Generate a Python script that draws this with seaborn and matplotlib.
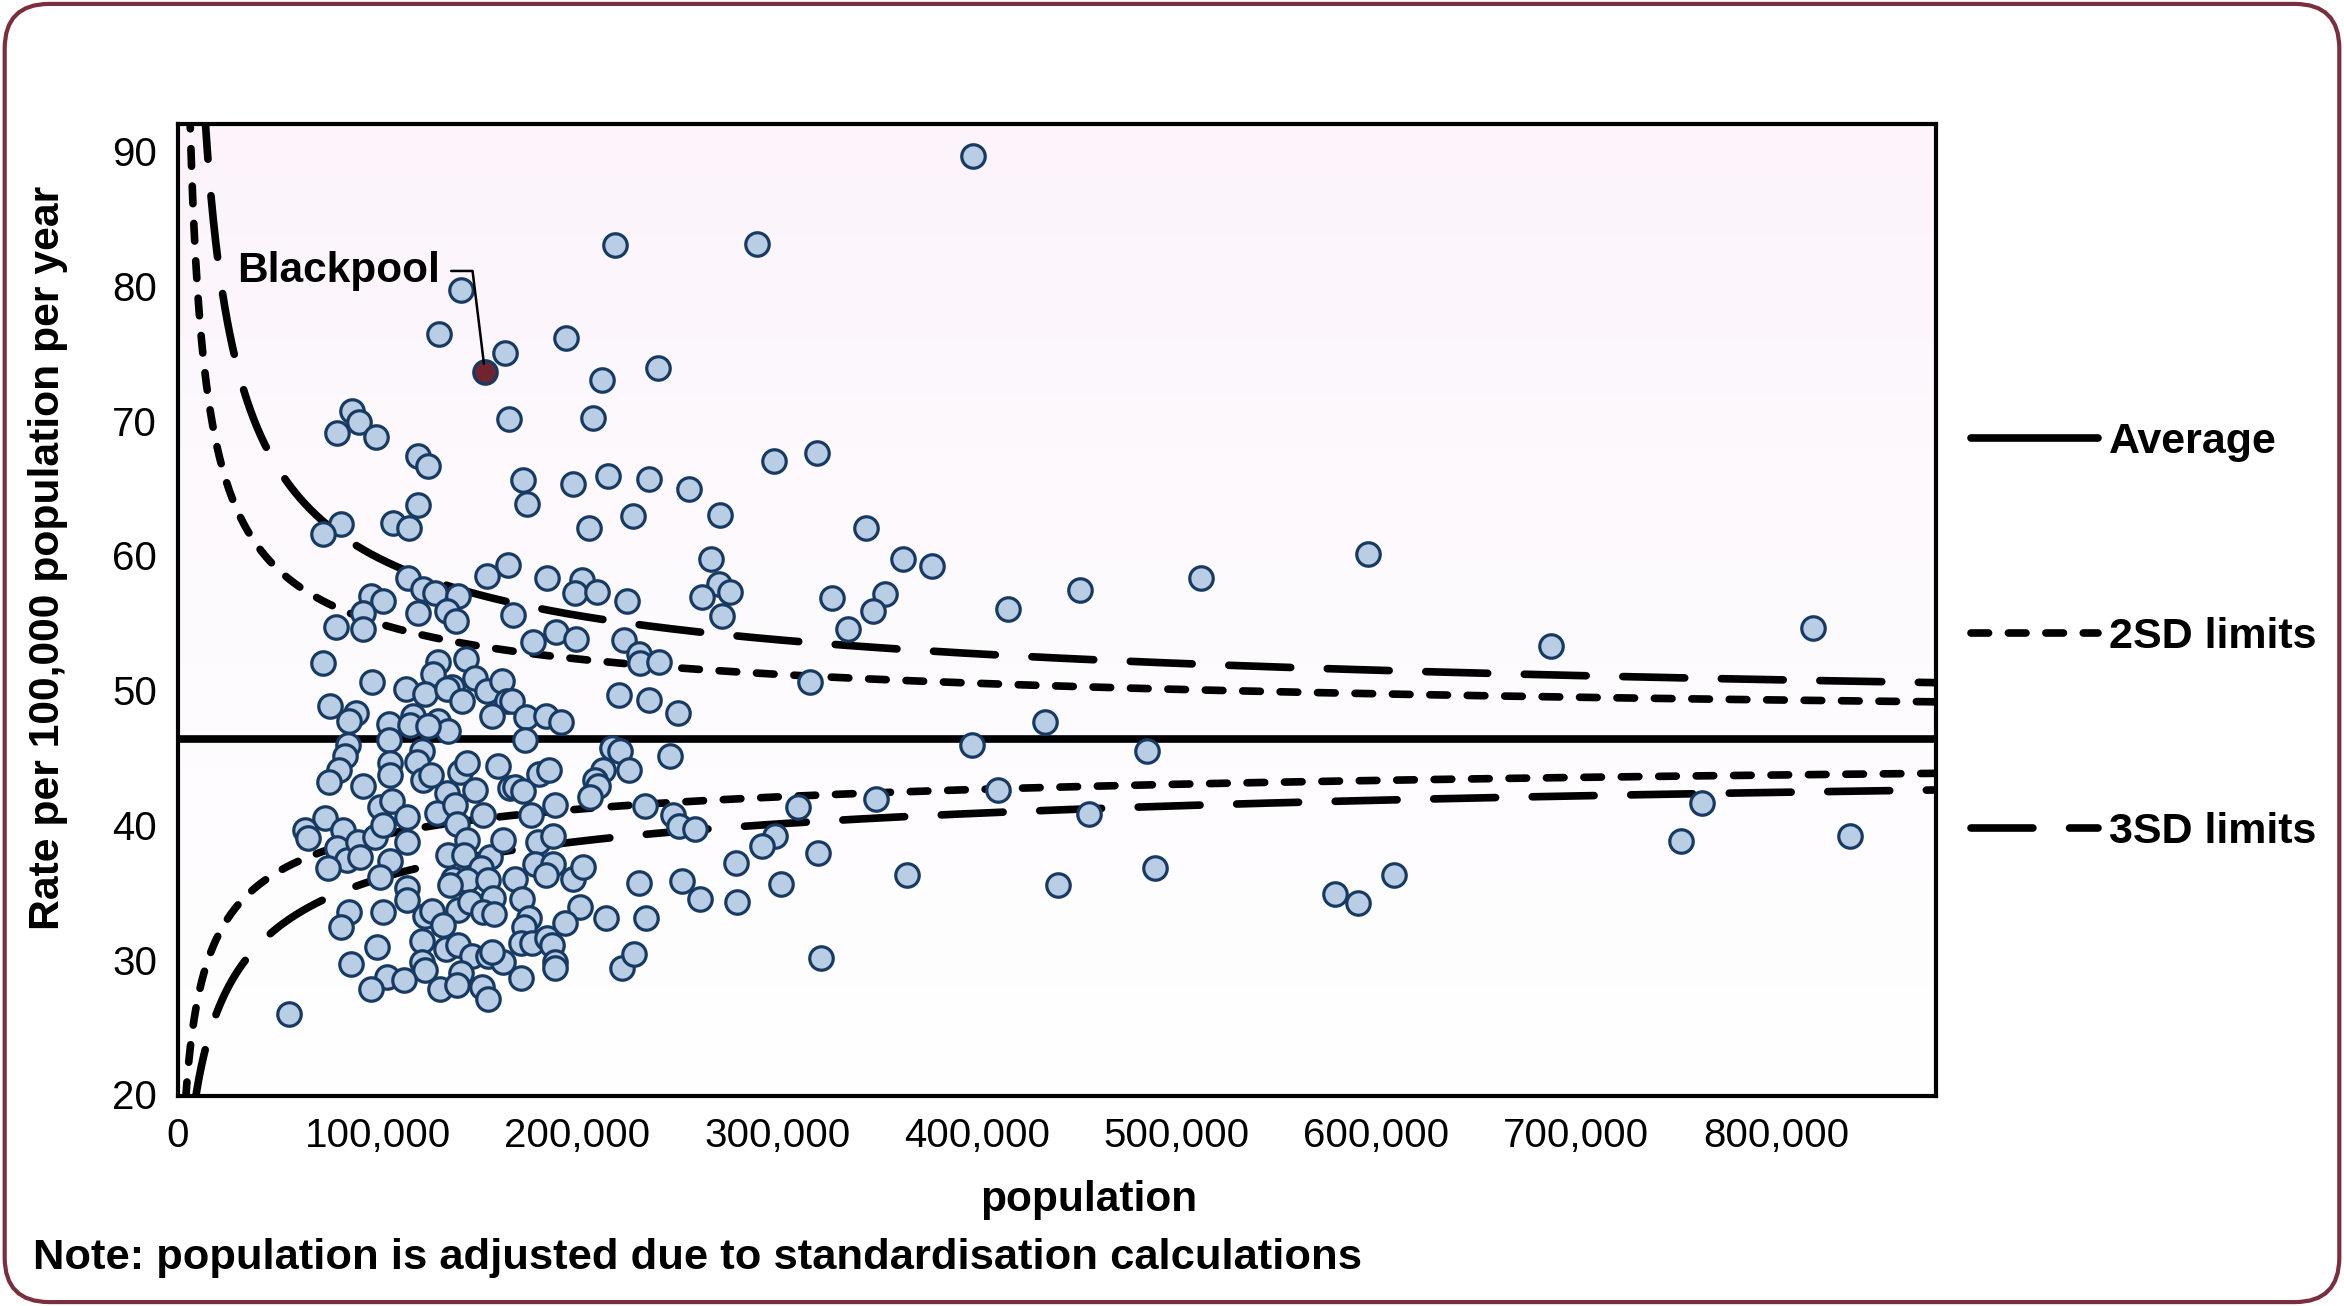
import numpy as np
import pandas as pd
import matplotlib
matplotlib.use("Agg")
import matplotlib.pyplot as plt
import seaborn as sns
from matplotlib.lines import Line2D
from matplotlib.patches import FancyBboxPatch
from matplotlib.colors import LinearSegmentedColormap
from matplotlib.ticker import FuncFormatter

# population (thousands) and rate per 100,000 per year
pop_k = [
    398, 218.6, 289.7, 141.5, 130.9, 194.4, 163.8, 240.5, 212.4, 165.6,
    207.9, 87.3, 90.8, 79.7, 99.3, 120.3, 125.3, 319.8, 298.6, 172.9,
    197.9, 215.4, 236.0, 255.8, 174.9, 120.1, 227.9, 271.4, 107.8, 115.8,
    81.8, 72.8, 205.8, 344.3, 363.2, 377.3, 266.9, 270.8, 276.5, 262.4,
    272.5, 327.6, 353.7, 347.9, 335.5, 415.7, 451.5, 512, 595.6, 687.3,
    818.6, 316.4,
    115.3, 154.5, 165.4, 184.7, 202.1, 96.9, 102.8, 92.8, 92.8, 79.1,
    122.5, 128.6, 140.3, 120, 134.5, 139, 198.7, 210, 224.9, 167.5,
    177.9, 189.1, 199.1, 223.4, 231, 231.4, 241, 72.8, 97.2, 130.4,
    144.2, 148.7, 127.8, 137, 114.1, 123.6, 134.5, 142, 154.5, 162.4,
    164.5, 157, 167, 174.2, 184.2, 191.8, 173.7, 220.9, 235.9, 250.5,
    76.1, 89.1, 85.6, 105.8, 117.5, 116.2, 130.4, 135.4, 125.3, 105.8,
    217.1, 221.3, 246.3, 433.8, 397.7, 484.9,
    85.3, 83.8, 80.8, 75.8, 92.8, 106.1, 106.1, 122, 119.8, 122.8,
    126.5, 141.2, 144.5, 160, 148.7, 134.5, 166.2, 101.1, 107, 129.5,
    138.7, 152.8, 73.6, 114.5, 180.9, 185.9, 168.7, 172.9, 212.9, 225.9,
    208.8, 210.4, 206.3, 233.8, 188.8, 176.7, 247.7, 250.8, 258.8, 410.5,
    349.6, 456.2, 310.6, 298.7, 292.5, 279.4, 320.6, 301.7, 279.8, 261.4,
    364.8, 440.4, 489.2, 322, 579.2, 590.9, 608.6, 763.1, 752.6, 837,
    63.6, 65.2, 82.7, 79.4, 84.8, 75.2, 90.3, 91.1, 98.6, 102.8,
    114.5, 106.1, 101.1, 114.8, 114.8, 139.5, 144.8, 135.3, 143.3, 156.2,
    151.5, 137.8, 144.5, 155.4, 136.1, 162.9, 157.9, 140.3, 146.2, 152.8,
    158.4, 123.7, 127, 132.8, 102.8, 85.8, 81.6, 99.8, 122, 134,
    140.3, 147, 155.4, 162.9, 86.6, 122, 123.7, 104.5, 113.3, 96.9,
    131.2, 141.5, 139.5, 152, 155.4, 55.8,
    180.4, 187.9, 178.7, 187.9, 184.2, 197.6, 202.9, 168.7, 172.4, 201.3,
    194, 214.2, 234.3, 230.8, 252.5, 175.9, 173.4, 171.7, 177.1, 184.6,
    187.1, 188.8, 188.8, 157, 171.7, 222.1, 228.3,
]
rate = [
    89.6, 83.0, 83.1, 79.7, 76.4, 76.1, 75.0, 73.9, 73.0, 70.1,
    70.2, 70.7, 69.9, 69.1, 68.8, 67.4, 66.6, 67.6, 67.0, 65.6,
    65.3, 65.9, 65.7, 64.9, 63.8, 63.7, 62.9, 63.0, 62.4, 62.0,
    62.3, 61.6, 62.0, 62.0, 59.7, 59.2, 59.7, 57.9, 57.3, 56.9,
    55.5, 56.8, 57.1, 55.9, 54.5, 56.0, 57.4, 58.3, 60.1, 53.3,
    54.6, 50.6,
    58.3, 58.5, 59.3, 58.3, 58.2, 57.0, 56.6, 55.7, 54.5, 54.7,
    57.5, 57.2, 57.0, 55.7, 55.9, 55.1, 57.2, 57.3, 56.6, 55.6,
    53.6, 54.3, 53.8, 53.7, 52.7, 52.0, 52.1, 52.0, 50.6, 52.1,
    52.3, 50.9, 51.2, 50.2, 50.1, 49.7, 50.1, 49.2, 49.9, 50.7,
    49.2, 48.1, 49.2, 48.0, 48.1, 47.6, 46.3, 49.6, 49.3, 48.3,
    48.8, 48.3, 47.7, 47.5, 48.1, 47.4, 47.7, 47.0, 47.3, 46.3,
    45.7, 45.5, 45.1, 47.6, 45.9, 45.5,
    45.9, 45.1, 44.1, 43.2, 42.9, 44.6, 43.7, 45.5, 44.7, 43.3,
    43.7, 43.9, 44.6, 44.4, 42.6, 42.4, 42.7, 41.3, 41.8, 40.9,
    41.5, 40.7, 40.5, 40.6, 43.8, 44.1, 42.8, 42.5, 44.1, 44.1,
    43.3, 42.9, 42.1, 41.4, 41.5, 40.7, 40.7, 39.9, 39.7, 42.6,
    41.9, 40.8, 41.3, 39.2, 38.4, 37.2, 37.9, 35.6, 34.3, 34.5,
    36.3, 35.5, 36.8, 30.1, 34.9, 34.2, 36.3, 41.6, 38.8, 39.2,
    39.6, 39.0, 39.6, 38.3, 37.4, 36.8, 38.7, 37.6, 39.1, 40.0,
    38.7, 37.3, 36.1, 35.3, 34.4, 40.1, 38.9, 37.8, 37.8, 37.6,
    36.8, 36.0, 35.9, 35.9, 35.5, 38.9, 34.6, 33.7, 34.3, 33.5,
    33.4, 33.2, 33.6, 32.6, 33.5, 33.5, 32.4, 30.9, 31.4, 30.8,
    31.1, 30.3, 30.3, 29.8, 29.7, 29.8, 29.2, 28.7, 28.5, 27.8,
    27.8, 29.0, 28.1, 28.0, 27.1, 26.0,
    38.7, 39.2, 37.1, 37.1, 36.3, 36.0, 36.9, 36.0, 34.5, 33.9,
    32.7, 33.1, 33.1, 35.7, 35.8, 33.1, 32.4, 31.2, 31.2, 31.6,
    31.1, 29.8, 29.4, 30.6, 28.6, 29.4, 30.4,
]

blackpool_pop = 153700
blackpool_rate = 73.6

AVERAGE = 46.4
YEARS = 3
x_ticks = [0, 100000, 200000, 300000, 400000, 500000, 600000, 700000, 800000]
y_ticks = [20, 30, 40, 50, 60, 70, 80, 90]

df = pd.DataFrame({"population": np.array(pop_k) * 1000, "rate": rate})

# funnel limits (log scale poisson limits around the average)
pop_line = np.linspace(1000, 880000, 3000)
expected = AVERAGE * YEARS * pop_line / 100000
limits = {z: AVERAGE * np.exp(z / np.sqrt(expected)) for z in (-3, -2, 2, 3)}

sns.set_style("white")
plt.rcParams["font.family"] = ["Liberation Sans", "DejaVu Sans"]
plt.rcParams["text.color"] = "black"
plt.rcParams["xtick.color"] = "black"
plt.rcParams["ytick.color"] = "black"

fig = plt.figure(figsize=(23.44, 13.06), dpi=100)
ax = fig.add_axes([0.0759, 0.161, 0.750, 0.744])

# very faint pink tint near the top of the plot area
bg = LinearSegmentedColormap.from_list("bg", ["#ffffff", "#fefcfe", "#fdf9fd", "#fcf3fb"])
ax.imshow(np.linspace(0, 1, 256).reshape(-1, 1), cmap=bg, aspect="auto",
          origin="lower", extent=(0, 1, 0, 1), transform=ax.transAxes, zorder=0)

lw = 5.5
short_dash = (0, (2.3, 2.6))
long_dash = (0, (8.1, 4.8))
ax.axhline(AVERAGE, color="black", lw=lw, zorder=2)
for z in (-2, 2):
    ax.plot(pop_line, limits[z], color="black", lw=lw, ls=short_dash,
            dash_capstyle="round", zorder=2)
for z in (-3, 3):
    ax.plot(pop_line, limits[z], color="black", lw=lw, ls=long_dash,
            dash_capstyle="round", zorder=2)

sns.scatterplot(data=df, x="population", y="rate", ax=ax, s=285,
                color="#b9cde4", edgecolor="#173a63", linewidth=2.3, zorder=3)
ax.scatter([blackpool_pop], [blackpool_rate], s=285, color="#70242f",
           edgecolor="#173a63", linewidth=2.3, zorder=4)

ax.annotate("Blackpool", xy=(blackpool_pop, blackpool_rate), xytext=(131000, 81.1),
            ha="right", va="center", fontsize=30.5, fontweight="bold",
            arrowprops=dict(arrowstyle="-", color="black", lw=1.8,
                            relpos=(1, 0.5), shrinkA=6, shrinkB=6,
                            connectionstyle="angle,angleA=0,angleB=97,rad=0"),
            zorder=5)

ax.set_xlim(0, 880000)
ax.set_ylim(19.9, 92)
ax.set_xticks(x_ticks)
ax.set_yticks(y_ticks)
ax.xaxis.set_major_formatter(FuncFormatter(lambda v, p: f"{int(v):,}"))
ax.tick_params(axis="both", labelsize=29, length=7, width=2.5, direction="out",
               pad=8, color="black", labelcolor="black")
ax.set_xlabel("")
ax.set_ylabel("")
for sp in ax.spines.values():
    sp.set_visible(True)
    sp.set_color("black")
    sp.set_linewidth(3)
    sp.set_zorder(6)

fig.text(0.0205, 0.573, "Rate per 100,000 population per year", rotation=90,
         ha="center", va="center", fontsize=30.7, fontweight="bold")
fig.text(0.4643, 0.0812, "population", ha="center", va="center",
         fontsize=30.6, fontweight="bold")
fig.text(0.014, 0.0366, "Note: population is adjusted due to standardisation calculations",
         ha="left", va="center", fontsize=31.3, fontweight="bold")

handles = [
    Line2D([], [], color="black", lw=lw),
    Line2D([], [], color="black", lw=lw, ls=short_dash, dash_capstyle="round"),
    Line2D([], [], color="black", lw=lw, ls=long_dash, dash_capstyle="round"),
]
fig.legend(handles, ["Average", "2SD limits", "3SD limits"], loc="center left",
           bbox_to_anchor=(0.8245, 0.5125), frameon=False, handlelength=2.93,
           handletextpad=0.26, labelspacing=3.6,
           prop={"size": 31, "weight": "bold"})

border = FancyBboxPatch((0.002, 0.003), 0.996, 0.994, transform=fig.transFigure,
                        boxstyle="round,pad=0,rounding_size=0.019",
                        mutation_aspect=2344 / 1306, facecolor="none",
                        edgecolor="#7a2e3e", lw=3)
fig.patches.append(border)

fig.savefig("out.png", dpi=100)
